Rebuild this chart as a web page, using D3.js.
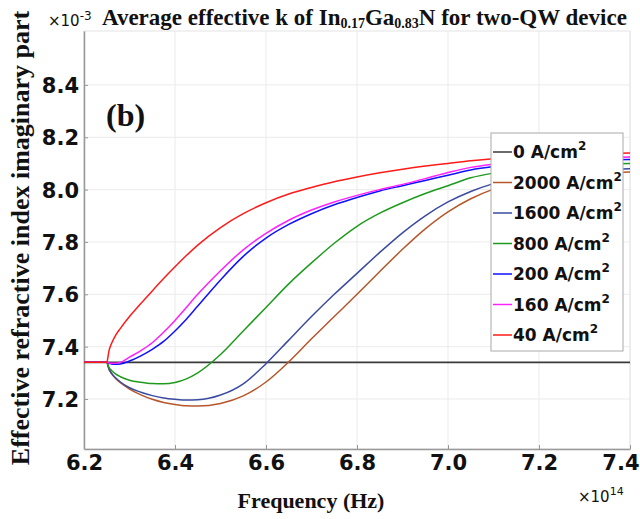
<!DOCTYPE html>
<html><head><meta charset="utf-8">
<script src="https://cdn.jsdelivr.net/npm/d3@7"></script>
<style>body{margin:0;background:#fff}svg{display:block}</style>
</head><body>
<svg id="c" width="640" height="519"></svg>
<script>
const freq  = [6.20,6.25,6.255,6.26,6.27,6.28,6.30,6.325,6.35,6.375,6.40,6.425,6.45,6.50,6.55,6.60,6.65,6.70,6.75,6.80,6.85,6.90,6.95,7.00,7.05,7.10,7.15,7.20,7.25,7.30,7.35,7.40];
const k0    = [7.34,7.34,7.34,7.34,7.34,7.34,7.34,7.34,7.34,7.34,7.34,7.34,7.34,7.34,7.34,7.34,7.34,7.34,7.34,7.34,7.34,7.34,7.34,7.34,7.34,7.34,7.34,7.34,7.34,7.34,7.34,7.34];
const k2000 = [7.34,7.34,7.313,7.298,7.277,7.262,7.238,7.216,7.199,7.187,7.179,7.174,7.173,7.183,7.212,7.265,7.342,7.43,7.515,7.60,7.687,7.772,7.85,7.915,7.965,8.002,8.026,8.042,8.052,8.059,8.064,8.067];
const k1600 = [7.34,7.34,7.315,7.30,7.28,7.265,7.243,7.226,7.213,7.204,7.199,7.196,7.197,7.215,7.258,7.335,7.425,7.515,7.60,7.68,7.76,7.835,7.90,7.953,7.993,8.023,8.044,8.058,8.068,8.074,8.078,8.08];
const k800  = [7.34,7.34,7.32,7.31,7.295,7.285,7.272,7.264,7.259,7.258,7.263,7.277,7.30,7.37,7.46,7.55,7.64,7.72,7.795,7.86,7.91,7.95,7.985,8.015,8.045,8.063,8.075,8.084,8.09,8.095,8.098,8.10];
const k200  = [7.34,7.34,7.336,7.334,7.333,7.334,7.345,7.365,7.39,7.42,7.46,7.505,7.555,7.655,7.745,7.815,7.867,7.908,7.942,7.97,7.995,8.015,8.035,8.055,8.075,8.088,8.097,8.104,8.109,8.112,8.114,8.115];
const k160  = [7.34,7.34,7.338,7.337,7.337,7.34,7.36,7.385,7.415,7.455,7.50,7.55,7.60,7.69,7.77,7.833,7.883,7.922,7.953,7.978,8.00,8.02,8.042,8.065,8.085,8.097,8.105,8.111,8.116,8.12,8.123,8.125];
const k40   = [7.34,7.34,7.385,7.41,7.445,7.47,7.515,7.565,7.613,7.66,7.705,7.748,7.788,7.855,7.908,7.95,7.983,8.008,8.03,8.048,8.064,8.078,8.09,8.10,8.11,8.118,8.124,8.129,8.133,8.136,8.138,8.14];
const seriesNames = ["0","2000","1600","800","200","160","40"];
const seriesVals = [k0,k2000,k1600,k800,k200,k160,k40];
const colors = ["#3a3a3a","#b5562b","#3b4ba0","#1e9b1e","#1010ff","#ff20ff","#ff1a1a"];
const xTicks = [6.2,6.4,6.6,6.8,7.0,7.2,7.4];
const yTicks = [7.2,7.4,7.6,7.8,8.0,8.2,8.4];

const svg = d3.select("#c");
const L=84, R=630, T=31, B=449;
const x = d3.scaleLinear().domain([6.2,7.4]).range([L,R]);
const y = d3.scaleLinear().domain([7.009,8.606]).range([B,T]);

// grid
svg.append("g").selectAll("line").data(xTicks).join("line")
  .attr("x1",d=>x(d)).attr("x2",d=>x(d)).attr("y1",T).attr("y2",B)
  .attr("stroke","#ebebeb").attr("stroke-width",1);
svg.append("g").selectAll("line").data(yTicks).join("line")
  .attr("x1",L).attr("x2",R).attr("y1",d=>y(d)).attr("y2",d=>y(d))
  .attr("stroke","#ebebeb").attr("stroke-width",1);
// box
svg.append("rect").attr("x",L).attr("y",T).attr("width",R-L).attr("height",B-T)
  .attr("fill","none").attr("stroke","#e4e4e4");

// axes
const xa = svg.append("g").attr("transform",`translate(0,${B})`)
  .call(d3.axisBottom(x).tickValues(xTicks).tickFormat(d3.format(".1f")).tickSizeInner(-4).tickSizeOuter(0));
const ya = svg.append("g").attr("transform",`translate(${L},0)`)
  .call(d3.axisLeft(y).tickValues(yTicks).tickFormat(d3.format(".1f")).tickSizeInner(-4).tickSizeOuter(0));
[xa,ya].forEach(a=>{
  a.select(".domain").attr("stroke","#999").attr("stroke-width",1.5);
  a.selectAll(".tick line").attr("stroke","#999");
  a.selectAll("text").attr("font-family","DejaVu Sans").attr("font-weight","bold")
   .attr("font-size",21).attr("fill","#111");
});
xa.selectAll("text").attr("dy","0.6em").attr("y",8);
xa.selectAll(".tick").filter(d=>d===7.4).select("text").attr("text-anchor","end").attr("x",9);
ya.selectAll("text").attr("x",-5).attr("dy","0.36em");

// lines
const line = d3.line().x((d,i)=>x(freq[i])).y(d=>y(d)).curve(d3.curveMonotoneX);
seriesVals.forEach((vals,si)=>{
  svg.append("path").datum(vals).attr("d",line).attr("fill","none")
    .attr("stroke",colors[si]).attr("stroke-width",si===0?1.8:1.5);
});

// legend
const lg = svg.append("g");
lg.append("rect").attr("x",491).attr("y",133).attr("width",132).attr("height",218)
  .attr("fill","#fff").attr("stroke","#aaa").attr("stroke-width",1);
seriesNames.forEach((n,i)=>{
  const yy = 152 + i*30.5;
  lg.append("line").attr("x1",493).attr("x2",512).attr("y1",yy).attr("y2",yy)
    .attr("stroke",colors[i]).attr("stroke-width",1.5);
  const t = lg.append("text").attr("x",513).attr("y",yy+6)
    .attr("font-family","DejaVu Sans").attr("font-weight","bold").attr("font-size",17).attr("fill","#111");
  t.append("tspan").text(n+" A/cm");
  t.append("tspan").text("2").attr("font-size",12).attr("dy",-8);
});

// title
const title = svg.append("text").attr("x",102).attr("y",25)
  .attr("font-family","Liberation Serif").attr("font-weight","bold").attr("font-size",23).attr("fill","#111");
title.append("tspan").text("Average effective k of In");
title.append("tspan").text("0.17").attr("font-size",14).attr("dy",3);
title.append("tspan").text("Ga").attr("dy",-3);
title.append("tspan").text("0.83").attr("font-size",14).attr("dy",3);
title.append("tspan").text("N for two-QW device").attr("dy",-3);

// exponents
const e1 = svg.append("text").attr("x",48).attr("y",26)
  .attr("font-family","DejaVu Sans").attr("font-size",15).attr("fill","#111");
e1.append("tspan").text("×10");
e1.append("tspan").text("-3").attr("font-size",12).attr("dy",-6);
const e2 = svg.append("text").attr("x",578).attr("y",502)
  .attr("font-family","DejaVu Sans").attr("font-size",15).attr("fill","#111");
e2.append("tspan").text("×10");
e2.append("tspan").text("14").attr("font-size",11).attr("dy",-7);

// axis labels
svg.append("text").attr("x",311).attr("y",508).attr("text-anchor","middle")
  .attr("font-family","Liberation Serif").attr("font-weight","bold").attr("font-size",22).attr("fill","#111")
  .text("Frequency (Hz)");
svg.append("text").attr("transform","translate(29,238) rotate(-90)").attr("text-anchor","middle")
  .attr("font-family","Liberation Serif").attr("font-weight","bold").attr("font-size",26).attr("fill","#111")
  .text("Effective refractive index imaginary part");

svg.append("text").attr("x",106).attr("y",126)
  .attr("font-family","Liberation Serif").attr("font-weight","bold").attr("font-size",32).attr("fill","#111")
  .text("(b)");
</script>
</body></html>
